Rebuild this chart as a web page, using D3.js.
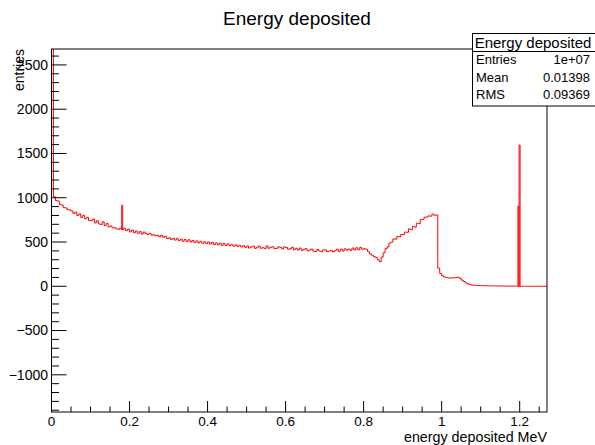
<!DOCTYPE html>
<html><head><meta charset="utf-8">
<script src="https://cdn.jsdelivr.net/npm/d3@7"></script>
<style>
html,body{margin:0;padding:0;background:#fff;}
svg{display:block;font-family:"Liberation Sans",Arial,Helvetica,sans-serif;}
</style></head>
<body>
<script>
// ---- data ----
const binWidth = 0.005;           // MeV
const xMin = 0, xMax = 1.27;
const counts = [
 2900,1010,968,962,925,918,888,885,865,862,
 850,822,838,800,818,778,800,762,780,742,
 742,760,715,740,705,698,728,685,710,672,
 680,660,662,648,645,658,640,652,628,645,
 615,635,605,625,598,618,590,612,596,585,
 598,578,582,570,575,558,575,552,565,540,
 548,530,542,522,538,515,532,508,528,505,
 525,500,518,495,512,490,508,485,502,480,
 500,478,495,470,490,468,486,462,482,460,
 480,458,470,452,468,448,462,445,458,440,
 455,432,445,452,428,440,454,430,436,425,
 455,430,440,446,425,428,445,440,422,445,
 438,418,425,440,412,430,410,432,405,416,
 425,400,410,420,395,392,415,398,390,412,
 410,392,398,405,388,402,418,392,420,398,
 422,408,420,405,432,410,435,412,440,418,
 425,418,390,365,350,335,325,300,278,330,
 378,425,445,488,498,535,532,562,558,585,
 585,612,610,648,638,678,668,712,708,752,
 755,780,782,795,792,815,802,805,205,145,
 120,105,100,95,92,96,95,100,103,90,
 70,55,40,28,22,15,12,10,9,8,
 8,7,6,6,5,5,4,4,4,3,
 3,3,2,2,2,2,2,2,1,1,
 0,0,0,0,0,0,0,0,0,0,0,0,0,0
];
// narrow spike bins (energy of low edge, counts)
const spikeEnergy = [0.1800, 1.1955, 1.1985];
const spikeCounts = [915, 905, 1595];
const spikeWidth = 0.0025;

const xTicks = [0, 0.2, 0.4, 0.6, 0.8, 1, 1.2];
const yTicks = [-1000, -500, 0, 500, 1000, 1500, 2000, 2500];
const statsLabels = ["Entries", "Mean", "RMS"];
const statsValues = ["1e+07", "0.01398", "0.09369"];

// ---- layout ----
const W = 595, H = 445;
const L = 51.5, R = 547, T = 49, B = 412;

const svg = d3.select("body").append("svg").attr("width", W).attr("height", H);
const x = d3.scaleLinear().domain([xMin, xMax]).range([L, R]);
const y = d3.scaleLinear().domain([-1420, 2680]).range([B, T]);

svg.append("defs").append("clipPath").attr("id","clip")
  .append("rect").attr("x",L).attr("y",T).attr("width",R-L).attr("height",B-T);

// histogram step path
let p = d3.path();
p.moveTo(x(xMin), y(0));
counts.forEach((c,i)=>{
  const lo = xMin + i*binWidth, hi = lo + binWidth;
  p.lineTo(x(lo), y(c)); p.lineTo(x(hi), y(c));
});
p.lineTo(x(xMax), y(0));
const g = svg.append("g").attr("clip-path","url(#clip)");
g.append("path").attr("d", p.toString()).attr("fill","none")
 .attr("stroke","#ff0000").attr("stroke-width",1);

spikeEnergy.forEach((e,k)=>{
  const base = counts[Math.floor((e - xMin)/binWidth + 1e-9)];
  const sp = d3.path();
  sp.moveTo(x(e), y(base)); sp.lineTo(x(e), y(spikeCounts[k]));
  sp.lineTo(x(e+spikeWidth), y(spikeCounts[k])); sp.lineTo(x(e+spikeWidth), y(base));
  g.append("path").attr("d", sp.toString()).attr("fill","none")
   .attr("stroke","#ff0000").attr("stroke-width",1);
});

// frame
svg.append("rect").attr("x",L).attr("y",T).attr("width",R-L).attr("height",B-T)
  .attr("fill","none").attr("stroke","#000").attr("stroke-width",1);

// x ticks (inside)
const xMinor = d3.range(0, 1.2701, 0.05);
svg.append("g").selectAll("line").data(xMinor).join("line")
  .attr("x1",d=>x(d)).attr("x2",d=>x(d)).attr("y1",B)
  .attr("y2",(d,i)=> i%4===0 ? B-11 : B-5.5)
  .attr("stroke","#000").attr("stroke-width",1);
svg.append("g").selectAll("text").data(xTicks).join("text")
  .attr("x",d=>x(d)).attr("y",425.5).attr("text-anchor","middle")
  .attr("font-size",13.5).text(d=>d3.format("")(d));

// y ticks (inside)
const yMinor = d3.range(-1400, 2601, 100);
svg.append("g").selectAll("line").data(yMinor).join("line")
  .attr("y1",d=>y(d)).attr("y2",d=>y(d)).attr("x1",L)
  .attr("x2",d=> d%500===0 ? L+15 : L+7.5)
  .attr("stroke","#000").attr("stroke-width",1);
svg.append("g").selectAll("text").data(yTicks).join("text")
  .attr("x",48).attr("y",d=>y(d)).attr("dy","0.35em").attr("text-anchor","end")
  .attr("font-size",14).text(d=>d3.format("")(d));

// axis titles
svg.append("text").attr("x",R).attr("y",441.5).attr("text-anchor","end")
  .attr("font-size",14.3).text("energy deposited MeV");
svg.append("text").attr("transform",`translate(24,${T}) rotate(-90)`)
  .attr("text-anchor","end").attr("font-size",14).text("entries");

// title
svg.append("text").attr("x",297).attr("y",25).attr("text-anchor","middle")
  .attr("font-size",19).text("Energy deposited");

// stats box
const sb = {x:472.5, y:33.5, w:123, h:72.5, th:18};
svg.append("rect").attr("x",sb.x).attr("y",sb.y).attr("width",sb.w).attr("height",sb.h)
  .attr("fill","#fff").attr("stroke","#000").attr("stroke-width",1);
svg.append("line").attr("x1",sb.x).attr("x2",sb.x+sb.w).attr("y1",sb.y+sb.th).attr("y2",sb.y+sb.th)
  .attr("stroke","#000").attr("stroke-width",1);
svg.append("text").attr("x",sb.x+sb.w/2-1).attr("y",sb.y+14.5).attr("text-anchor","middle")
  .attr("font-size",15).text("Energy deposited");
statsLabels.forEach((l,i)=>{
  const yy = 64 + i*17.5;
  svg.append("text").attr("x",476).attr("y",yy).attr("font-size",13).text(l);
  svg.append("text").attr("x",590).attr("y",yy).attr("text-anchor","end")
    .attr("font-size",13).text(statsValues[i]);
});
</script>
</body></html>
